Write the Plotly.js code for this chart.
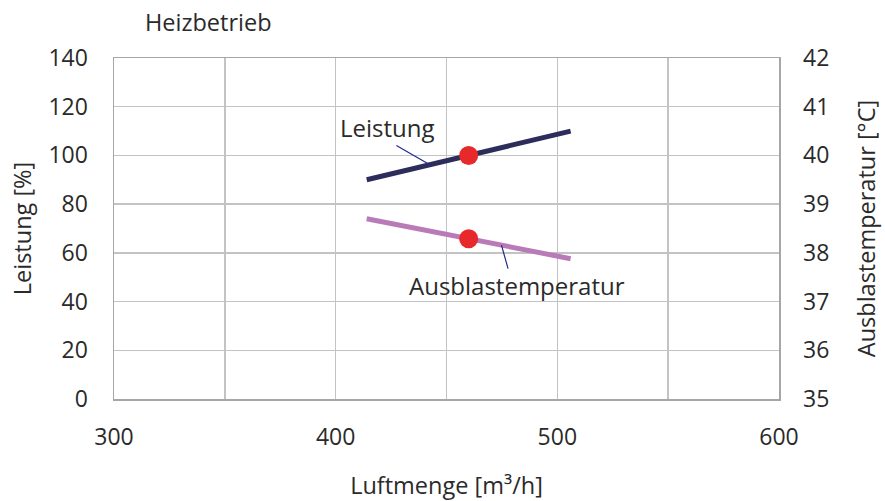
<!DOCTYPE html>
<html>
<head>
<meta charset="utf-8">
<script src="https://cdn.plot.ly/plotly-3.0.1.min.js"></script>
<style>html,body{margin:0;padding:0;background:#fff;}#chart{width:885px;height:501px;}</style>
</head>
<body>
<div id="chart"></div>
<script>
// Data
const airflow = [414, 506];              // Luftmenge [m³/h]
const leistung = [90, 110];              // Leistung [%]
const ausblastemp = [38.7, 37.88];       // Ausblastemperatur [°C]
const opPointAirflow = [460];
const opPointLeistung = [100];
const opPointTemp = [38.29];
const xTicks = [300, 350, 400, 450, 500, 550, 600];
const xTickLabels = ['300', '', '400', '', '500', '', '600'];
const yTicks = [0, 20, 40, 60, 80, 100, 120, 140];
const y2Ticks = [35, 36, 37, 38, 39, 40, 41, 42];

function interp(xs, ys, x) {
  return ys[0] + (x - xs[0]) / (xs[1] - xs[0]) * (ys[1] - ys[0]);
}

const FONT = 'Open Sans, Noto Sans, sans-serif';
const TXT = '#2a2a2a';

const traces = [
  {x: airflow, y: leistung, mode: 'lines', line: {color: '#2d2d5c', width: 5}, yaxis: 'y', hoverinfo: 'skip'},
  {x: airflow, y: ausblastemp, mode: 'lines', line: {color: '#b97bb8', width: 5}, yaxis: 'y2', hoverinfo: 'skip'},
  {x: opPointAirflow, y: opPointLeistung, mode: 'markers', marker: {color: '#e8292b', size: 19}, yaxis: 'y'},
  {x: opPointAirflow, y: opPointTemp, mode: 'markers', marker: {color: '#e8292b', size: 19}, yaxis: 'y2'}
];

const leaderL = 442.5, leaderA = 474.8;

const layout = {
  width: 885, height: 501,
  margin: {l: 114, r: 106, t: 58, b: 102},
  paper_bgcolor: '#fff', plot_bgcolor: '#fff',
  showlegend: false,
  font: {family: FONT, size: 23, color: TXT},
  title: {text: 'Heizbetrieb', x: 145/885, xanchor: 'left', xref: 'container', y: 1 - 23/501, yanchor: 'middle', yref: 'container', font: {family: FONT, size: 23.5, color: TXT}},
  xaxis: {
    range: [300, 600], tickvals: xTicks, ticktext: xTickLabels,
    showgrid: true, gridcolor: '#c3c3c3', gridwidth: 1.5,
    zeroline: false, showline: true, linecolor: '#a6a6a6', linewidth: 1.5, mirror: true,
    ticks: '', ticklabelstandoff: 17,
    tickfont: {family: FONT, size: 23, color: TXT},
    title: {text: 'Luftmenge [m³/h]', font: {family: FONT, size: 23.5, color: TXT}, standoff: 26}
  },
  yaxis: {
    range: [0, 140], tickvals: yTicks, showgrid: true, gridcolor: '#c3c3c3', gridwidth: 1.5,
    zeroline: false, showline: true, linecolor: '#a6a6a6', linewidth: 1.5, mirror: true,
    ticks: '', ticklabelstandoff: 20,
    tickfont: {family: FONT, size: 23, color: TXT},
    title: {text: 'Leistung [%]', font: {family: FONT, size: 23.5, color: TXT}, standoff: 10}
  },
  yaxis2: {
    range: [35, 42], tickvals: y2Ticks, overlaying: 'y', side: 'right',
    showgrid: false, zeroline: false, showline: false,
    ticks: '', ticklabelstandoff: 23,
    tickfont: {family: FONT, size: 23, color: TXT},
    title: {text: 'Ausblastemperatur [°C]', font: {family: FONT, size: 23.5, color: TXT}, standoff: 30}
  },
  annotations: [
    {x: 423.6, y: 111.4, xref: 'x', yref: 'y', text: 'Leistung', showarrow: false, font: {family: FONT, size: 24, color: TXT}},
    {x: 481.7, y: 46.5, xref: 'x', yref: 'y', text: 'Ausblastemperatur', showarrow: false, font: {family: FONT, size: 24, color: TXT}},
    {x: leaderL, y: interp(airflow, leistung, leaderL), xref: 'x', yref: 'y', text: '', showarrow: true, arrowhead: 0, arrowwidth: 1.2, arrowcolor: '#1f2a8c', ax: -35, ay: -20, standoff: 0, startstandoff: 0},
    {x: leaderA, y: interp(airflow, ausblastemp, leaderA), xref: 'x', yref: 'y2', text: '', showarrow: true, arrowhead: 0, arrowwidth: 1.2, arrowcolor: '#1f2a8c', ax: 7, ay: 25, standoff: 0, startstandoff: 0}
  ]
};

Plotly.newPlot('chart', traces, layout, {displayModeBar: false, staticPlot: true});
</script>
</body>
</html>
